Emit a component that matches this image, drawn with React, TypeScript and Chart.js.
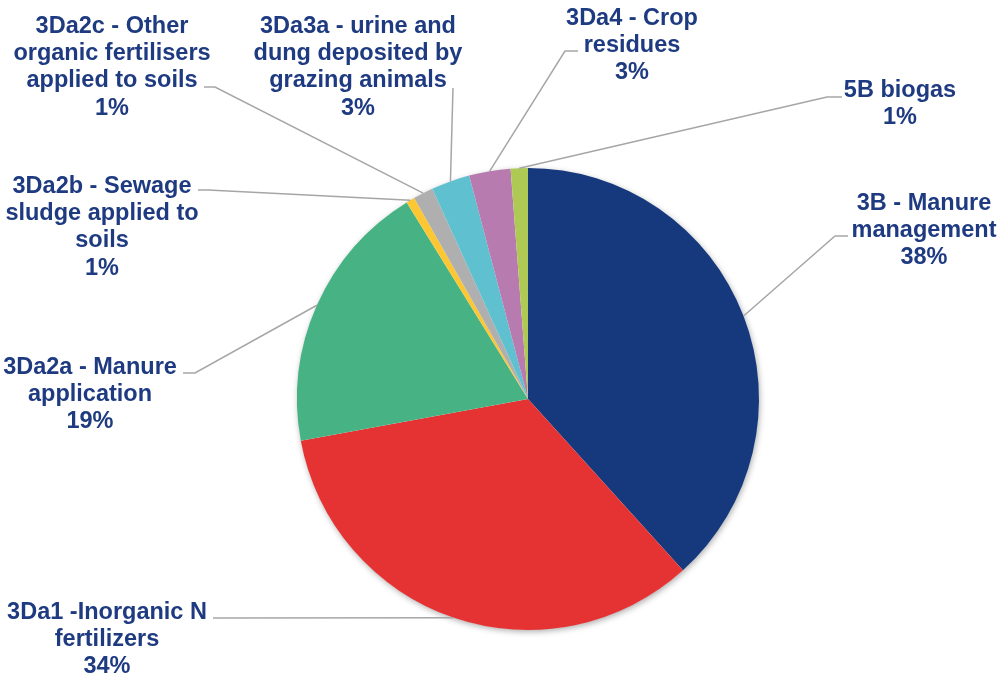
import React, { useEffect, useRef } from "react";
import { Chart, registerables } from "chart.js";

Chart.register(...registerables);

// ---- Data ----
const categories: string[] = [
  "3B - Manure management",
  "3Da1 -Inorganic N fertilizers",
  "3Da2a - Manure application",
  "3Da2b - Sewage sludge applied to soils",
  "3Da2c - Other organic fertilisers applied to soils",
  "3Da3a - urine and dung deposited by grazing animals",
  "3Da4 - Crop residues",
  "5B biogas",
];

const labelLines: string[][] = [
  ["3B - Manure", "management"],
  ["3Da1 -Inorganic N", "fertilizers"],
  ["3Da2a - Manure", "application"],
  ["3Da2b - Sewage", "sludge applied to", "soils"],
  ["3Da2c - Other", "organic fertilisers", "applied to soils"],
  ["3Da3a - urine and", "dung deposited by", "grazing animals"],
  ["3Da4 - Crop", "residues"],
  ["5B biogas"],
];

const shares: number[] = [38.3, 33.8, 19.1, 0.6, 1.4, 2.7, 2.9, 1.2];

// ---- Styles / layout ----
const sliceColors: string[] = [
  "#16397D",
  "#E53333",
  "#47B384",
  "#FCC733",
  "#AFAFAF",
  "#5FC1D0",
  "#B87BB0",
  "#AECA55",
];

const TEXT_COLOR = "#1E3A80";
const LEADER_COLOR = "#A6A6A6";
const FONT = "bold 23.5px 'Liberation Sans', Arial, sans-serif";
const LINE_H = 27.2;

// label block: center x, first baseline y, leader start and elbow
const labelLayout = [
  { cx: 924, b0: 210, start: [848, 236], elbow: [835, 236] },
  { cx: 107, b0: 619, start: [213, 618], elbow: [213, 618] },
  { cx: 90, b0: 374, start: [183, 373], elbow: [195, 373] },
  { cx: 102, b0: 193, start: [198, 190], elbow: [208, 190] },
  { cx: 112, b0: 33, start: [204, 87], elbow: [215, 87] },
  { cx: 358, b0: 33, start: [453, 88], elbow: [453, 88] },
  { cx: 632, b0: 25, start: [578, 51], elbow: [565, 51] },
  { cx: 900, b0: 97, start: [842, 97], elbow: [827, 97] },
];

const shadowPlugin = {
  id: "pieShadow",
  beforeDatasetsDraw(chart: any) {
    const meta = chart.getDatasetMeta(0);
    const arc = meta.data[0];
    if (!arc) return;
    const { x, y, outerRadius } = arc.getProps(["x", "y", "outerRadius"], true);
    const ctx = chart.ctx;
    ctx.save();
    ctx.shadowColor = "rgba(0,0,0,0.35)";
    ctx.shadowBlur = 6;
    ctx.shadowOffsetX = 1;
    ctx.shadowOffsetY = 2;
    ctx.fillStyle = "#ffffff";
    ctx.beginPath();
    ctx.arc(x, y, outerRadius - 0.5, 0, Math.PI * 2);
    ctx.fill();
    ctx.restore();
  },
};

const labelPlugin = {
  id: "outerLabels",
  afterDatasetsDraw(chart: any) {
    const ctx = chart.ctx;
    const meta = chart.getDatasetMeta(0);
    const values: number[] = chart.data.datasets[0].data;
    const total = values.reduce((a, b) => a + b, 0);
    ctx.save();
    meta.data.forEach((el: any, i: number) => {
      const p = el.getProps(["x", "y", "startAngle", "endAngle", "outerRadius"], true);
      const mid = (p.startAngle + p.endAngle) / 2;
      const ex = p.x + Math.cos(mid) * p.outerRadius;
      const ey = p.y + Math.sin(mid) * p.outerRadius;
      const lay = labelLayout[i];
      // leader line
      ctx.strokeStyle = LEADER_COLOR;
      ctx.lineWidth = 1.5;
      ctx.beginPath();
      ctx.moveTo(lay.start[0], lay.start[1]);
      ctx.lineTo(lay.elbow[0], lay.elbow[1]);
      ctx.lineTo(ex, ey);
      ctx.stroke();
      // text
      const lines = [...labelLines[i], Math.round((values[i] / total) * 100) + "%"];
      ctx.fillStyle = TEXT_COLOR;
      ctx.font = FONT;
      ctx.textAlign = "center";
      ctx.textBaseline = "alphabetic";
      lines.forEach((t, k) => {
        ctx.fillText(t, lay.cx, lay.b0 + k * LINE_H);
      });
    });
    ctx.restore();
  },
};

export default function App() {
  const canvasRef = useRef<HTMLCanvasElement | null>(null);

  useEffect(() => {
    document.body.style.margin = "0";
    const canvas = canvasRef.current;
    if (!canvas) return;
    const chart = new Chart(canvas, {
      type: "pie",
      data: {
        labels: categories,
        datasets: [
          {
            data: shares,
            backgroundColor: sliceColors,
            borderWidth: 0,
          },
        ],
      },
      options: {
        responsive: false,
        animation: false,
        layout: { padding: { top: 168, bottom: 47, left: 297, right: 241 } },
        plugins: {
          legend: { display: false },
          tooltip: { enabled: false },
        },
      },
      plugins: [shadowPlugin, labelPlugin],
    });
    return () => chart.destroy();
  }, []);

  return (
    <div style={{ width: 1000, height: 677, background: "#ffffff" }}>
      <canvas ref={canvasRef} width={1000} height={677} style={{ display: "block" }} />
    </div>
  );
}
